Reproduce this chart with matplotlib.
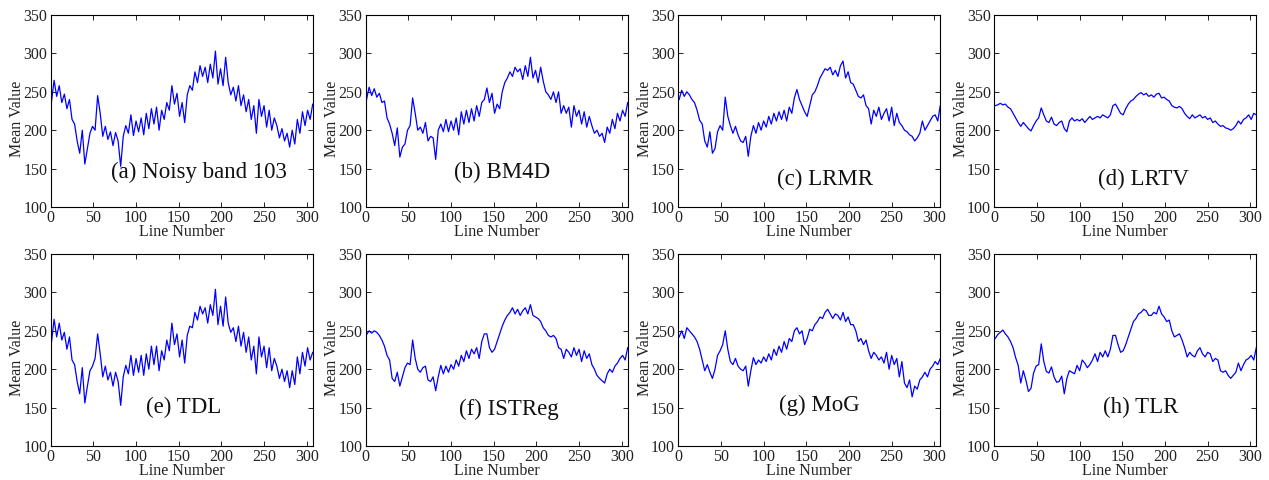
import numpy as np
import matplotlib
matplotlib.use("Agg")
import matplotlib.pyplot as plt

plt.rcParams["font.family"] = ["Liberation Serif", "DejaVu Serif"]

# Line numbers sampled every third line of the 307-line image
lines = np.arange(1, 308, 3)

noisy = [
    238, 265, 244, 258, 236, 247, 228, 240, 214, 208,
    186, 170, 200, 156, 176, 196, 205, 200, 245, 222,
    192, 205, 188, 198, 180, 197, 186, 153, 192, 206,
    196, 220, 193, 212, 198, 216, 194, 222, 202, 228,
    208, 230, 200, 226, 214, 236, 226, 258, 234, 248,
    218, 236, 210, 246, 258, 252, 276, 262, 284, 270,
    282, 262, 286, 268, 303, 260, 280, 258, 295, 262,
    246, 256, 238, 258, 232, 246, 224, 240, 214, 232,
    196, 240, 218, 232, 204, 226, 200, 216, 206, 190,
    202, 186, 196, 178, 200, 182, 214, 196, 224, 206,
    226, 214, 234,
]

bm4d = [
    240, 256, 245, 254, 243, 248, 236, 238, 216, 208,
    196, 180, 203, 165, 178, 182, 200, 206, 242, 222,
    200, 204, 196, 210, 186, 192, 190, 162, 200, 208,
    198, 214, 198, 212, 200, 216, 194, 224, 208, 226,
    210, 228, 212, 232, 218, 236, 240, 255, 236, 248,
    222, 234, 228, 250, 262, 268, 276, 270, 282, 276,
    280, 266, 284, 270, 295, 268, 278, 262, 282, 264,
    250, 246, 240, 250, 236, 250, 222, 232, 222, 230,
    204, 232, 218, 226, 208, 224, 204, 218, 206, 196,
    200, 192, 196, 184, 204, 196, 214, 202, 222, 212,
    226, 218, 236,
]

lrmr = [
    240, 252, 244, 250, 246, 240, 236, 226, 213, 208,
    186, 178, 198, 170, 176, 198, 206, 200, 243, 218,
    206, 196, 205, 194, 186, 184, 192, 166, 192, 206,
    196, 210, 200, 212, 204, 218, 208, 222, 212, 224,
    214, 226, 212, 230, 222, 242, 253, 240, 232, 224,
    218, 232, 246, 250, 258, 268, 274, 280, 278, 282,
    272, 278, 270, 284, 290, 268, 276, 262, 260, 252,
    244, 242, 246, 232, 228, 208, 226, 218, 230, 214,
    222, 228, 212, 230, 206, 222, 210, 206, 200, 198,
    194, 192, 186, 190, 196, 212, 200, 206, 212, 218,
    220, 212, 232,
]

lrtv = [
    232, 233, 235, 233, 234, 230, 228, 222, 216, 210,
    205, 210, 206, 202, 199, 206, 212, 216, 229, 220,
    212, 210, 217, 208, 206, 210, 212, 202, 198, 212,
    216, 212, 214, 212, 215, 210, 214, 218, 214, 216,
    218, 216, 220, 218, 216, 220, 232, 234, 228, 222,
    220, 228, 234, 238, 240, 244, 247, 249, 246, 248,
    244, 246, 243, 247, 248, 242, 243, 240, 238, 232,
    230, 229, 231, 228, 222, 218, 215, 220, 216, 218,
    220, 216, 218, 214, 216, 210, 212, 208, 205, 206,
    203, 202, 200, 202, 206, 212, 208, 214, 216, 220,
    214, 222, 220,
]

tdl = [
    236, 265, 242, 260, 238, 248, 226, 242, 212, 206,
    184, 168, 202, 156, 178, 198, 204, 214, 246, 220,
    190, 204, 186, 196, 178, 196, 184, 153, 190, 205,
    194, 218, 192, 214, 196, 218, 192, 220, 200, 230,
    206, 230, 198, 224, 212, 238, 224, 260, 232, 246,
    216, 238, 208, 244, 256, 254, 274, 264, 282, 272,
    280, 260, 284, 270, 304, 258, 282, 256, 294, 260,
    248, 254, 236, 256, 230, 248, 222, 242, 212, 230,
    194, 242, 216, 230, 202, 228, 198, 214, 204, 188,
    200, 184, 198, 176, 198, 180, 216, 194, 222, 204,
    228, 212, 222,
]

istreg = [
    245, 250, 247, 250, 248, 244, 238, 230, 218, 212,
    188, 184, 196, 178, 190, 202, 208, 206, 238, 214,
    200, 196, 202, 204, 186, 184, 190, 172, 190, 205,
    194, 204, 196, 206, 200, 212, 204, 218, 210, 224,
    214, 226, 220, 228, 214, 236, 246, 246, 228, 222,
    226, 236, 246, 256, 264, 270, 274, 280, 272, 278,
    270, 276, 280, 272, 284, 270, 268, 266, 262, 254,
    250, 244, 242, 244, 240, 228, 226, 214, 226, 222,
    216, 228, 218, 226, 210, 224, 214, 220, 206, 200,
    192, 188, 185, 182, 194, 200, 196, 204, 208, 214,
    218, 212, 228,
]

mog = [
    242, 250, 240, 254, 250, 246, 242, 236, 226, 212,
    198, 206, 196, 188, 200, 218, 224, 232, 250, 226,
    210, 206, 214, 204, 200, 198, 204, 178, 198, 215,
    206, 212, 208, 216, 210, 220, 212, 226, 218, 230,
    222, 236, 226, 240, 236, 250, 254, 246, 250, 232,
    240, 252, 250, 258, 262, 268, 266, 274, 278, 272,
    266, 272, 270, 264, 274, 262, 268, 258, 258, 250,
    236, 240, 232, 238, 224, 214, 222, 218, 212, 216,
    208, 222, 200, 218, 206, 214, 190, 210, 182, 176,
    186, 164, 178, 174, 186, 190, 196, 190, 200, 204,
    210, 206, 214,
]

tlr = [
    240, 245, 248, 251, 246, 242, 236, 228, 215, 205,
    182, 198, 186, 171, 175, 195, 204, 206, 233, 210,
    197, 195, 203, 190, 183, 184, 191, 168, 188, 198,
    196, 194, 205, 198, 212, 208, 202, 206, 212, 220,
    210, 222, 216, 224, 216, 226, 244, 244, 232, 222,
    224, 232, 242, 252, 262, 266, 272, 274, 278, 276,
    270, 270, 274, 272, 282, 272, 268, 262, 264, 250,
    242, 244, 246, 238, 228, 216, 222, 218, 216, 224,
    228, 220, 216, 222, 220, 210, 214, 212, 198, 196,
    198, 192, 188, 192, 196, 208, 198, 206, 212, 214,
    218, 212, 228,
]

titles = ["(a) Noisy band 103", "(b) BM4D", "(c) LRMR", "(d) LRTV",
          "(e) TDL", "(f) ISTReg", "(g) MoG", "(h) TLR"]
series = [noisy, bm4d, lrmr, lrtv, tdl, istreg, mog, tlr]
x_ticks = [0, 50, 100, 150, 200, 250, 300]
y_ticks = [100, 150, 200, 250, 300, 350]

# panel placement and caption anchors (axes fractions)
lefts = [50.7, 365.7, 678.3, 994.3]
caption_pos = [(0.567, 0.18), (0.522, 0.18), (0.559, 0.146), (0.568, 0.146),
               (0.507, 0.20), (0.547, 0.19), (0.539, 0.21), (0.559, 0.20)]

W, H = 1269, 480
fig = plt.figure(figsize=(W / 100, H / 100), dpi=100)
text_color = "#222222"

for i, (title, vals) in enumerate(zip(titles, series)):
    row, col = divmod(i, 4)
    top_px = 15 if row == 0 else 254
    ax = fig.add_axes([lefts[col] / W, 1 - (top_px + 192) / H, 262 / W, 192 / H])
    ax.plot(lines, vals, color="#0000ff", linewidth=0.9)
    ax.set_xlim(0, 307)
    ax.set_ylim(100, 350)
    ax.set_xticks(x_ticks)
    ax.set_yticks(y_ticks)
    ax.tick_params(direction="in", length=3.5, width=0.6, top=True, right=True,
                   labelsize=11.5, labelcolor=text_color, pad=2.5)
    ax.tick_params(axis="x", pad=2.5)
    for sp in ax.spines.values():
        sp.set_linewidth(0.8)
        sp.set_color("#000000")
    ax.set_xlabel("Line Number", fontsize=11.5, color=text_color, va="center")
    ax.xaxis.set_label_coords(0.5, -0.13)
    ax.set_ylabel("Mean Value", fontsize=11.5, color=text_color, va="center")
    ax.yaxis.set_label_coords(-0.127, 0.46)
    cx, cy = caption_pos[i]
    ax.text(cx, cy, title, transform=ax.transAxes, ha="center", va="center",
            fontsize=16.5, color="#111111")

fig.savefig("out.png", dpi=100)
